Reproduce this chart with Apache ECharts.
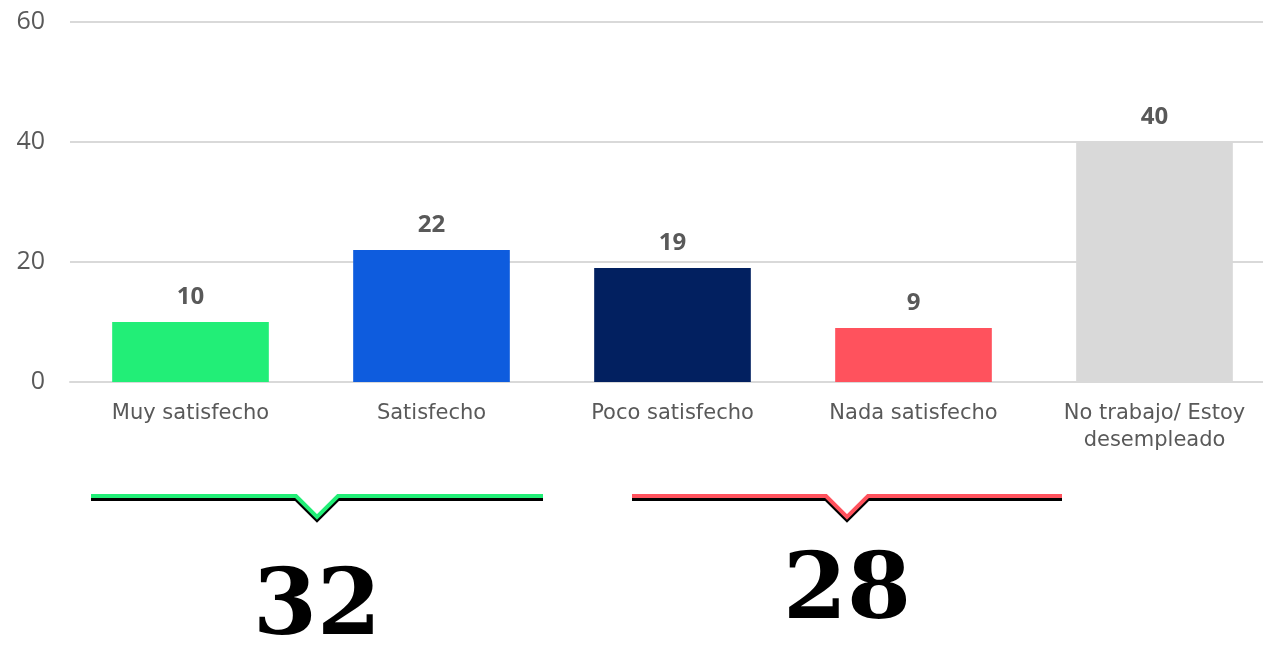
<!DOCTYPE html>
<html lang="es">
<head>
    <meta charset="UTF-8">
    <title>Satisfacción</title>
    <script src="https://cdn.jsdelivr.net/npm/echarts@6/dist/echarts.min.js"></script>
    <style>
        html, body { margin: 0; padding: 0; background: #fff; overflow: hidden; }
        #chart { width: 1263px; height: 647px; }
    </style>
</head>
<body>
<div id="chart"></div>
<script>
    // datos
    var categorias = ['Muy satisfecho', 'Satisfecho', 'Poco satisfecho', 'Nada satisfecho', 'No trabajo/ Estoy\ndesempleado'];
    var valores = [10, 22, 19, 9, 40];
    var colores = ['#22EE77', '#0E5CDE', '#022060', '#FF525D', '#D9D9D9'];
    var totales = [32, 28];
    var coloresTotales = ['#22EE77', '#FF525D'];

    // llaves bajo las categorias (posiciones en px)
    var llaves = [
        { x0: 91, x1: 543, tip: 317 },
        { x0: 632, x1: 1062, tip: 847 }
    ];
    var textosY = [610, 594];

    var graficos = [];
    llaves.forEach(function (ll, i) {
        var y = 496, d = 21;
        var pts = [[ll.x0, y], [ll.tip - d, y], [ll.tip, y + d], [ll.tip + d, y], [ll.x1, y]];
        var sombra = pts.map(function (p) { return [p[0], p[1] + 3]; });
        graficos.push({
            type: 'polyline', shape: { points: sombra },
            style: { stroke: '#000', lineWidth: 4, fill: null, lineJoin: 'miter' }
        });
        graficos.push({
            type: 'polyline', shape: { points: pts },
            style: { stroke: coloresTotales[i], lineWidth: 4, fill: null, lineJoin: 'miter' }
        });
        graficos.push({
            type: 'text', x: ll.tip, y: textosY[i],
            style: {
                text: String(totales[i]), fill: '#000',
                font: 'bold 92px "DejaVu Serif"',
                textAlign: 'center', textVerticalAlign: 'middle'
            }
        });
    });

    var option = {
        animation: false,
        grid: { left: 70, right: -12, top: 22, bottom: 265, outerBoundsMode: 'none' },
        xAxis: {
            type: 'category',
            data: categorias,
            axisTick: { show: false },
            axisLine: { lineStyle: { color: '#D9D9D9', width: 2 } },
            axisLabel: {
                color: '#595959', fontSize: 21, margin: 18, lineHeight: 27,
                fontFamily: 'DejaVu Sans', interval: 0
            }
        },
        yAxis: {
            type: 'value', min: 0, max: 60, interval: 20,
            axisLine: { show: false },
            axisTick: { show: false },
            axisLabel: { color: '#595959', fontSize: 25, margin: 25, fontFamily: 'Open Sans' },
            splitLine: { lineStyle: { color: '#D9D9D9', width: 2 } }
        },
        series: [{
            type: 'bar',
            barWidth: '65%',
            data: valores.map(function (v, i) {
                return { value: v, itemStyle: { color: colores[i] } };
            }),
            label: {
                show: true, position: 'top', distance: 13,
                color: '#595959', fontSize: 24, fontWeight: 'bold', fontFamily: 'Open Sans'
            }
        }],
        graphic: graficos
    };

    var myChart = echarts.init(document.getElementById('chart'));
    myChart.setOption(option);
</script>
</body>
</html>
